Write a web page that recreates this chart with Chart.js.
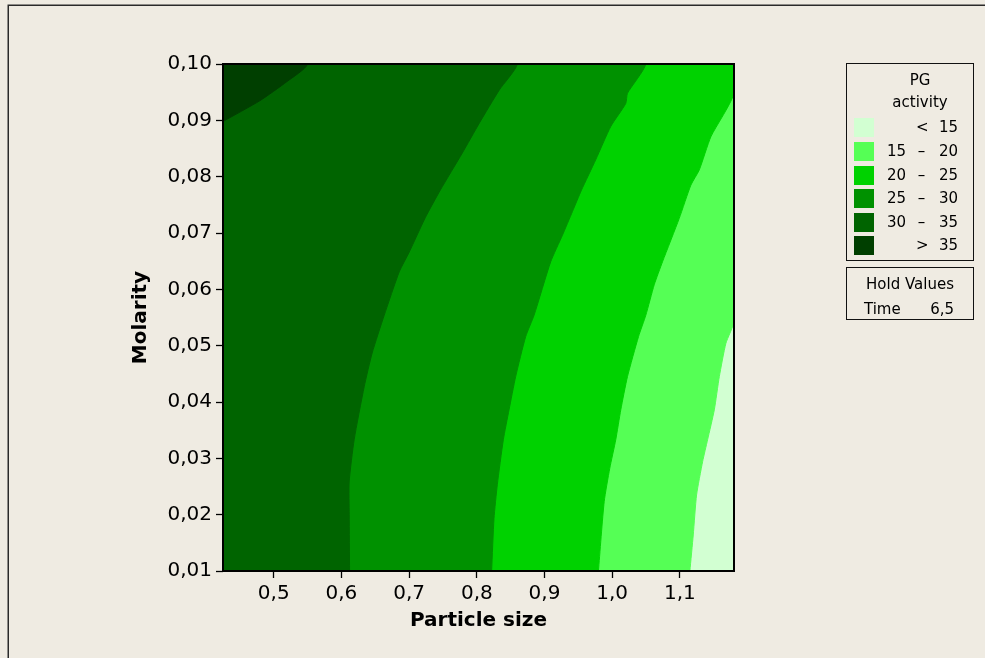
<!DOCTYPE html>
<html>
<head>
<meta charset="utf-8">
<script src="https://cdn.jsdelivr.net/npm/chart.js@4/dist/chart.umd.min.js"></script>
<style>
  html, body { margin: 0; overflow: hidden; }
  body { background: #efebe2; width: 985px; height: 658px; position: relative;
         font-family: "DejaVu Sans", sans-serif; color: #000; }
  canvas { position: absolute; left: 0; top: 0; }
  .box { position: absolute; left: 846px; width: 128px; box-sizing: border-box; border: 1.5px solid #111; }
  .txt { position: absolute; font-size: 15px; line-height: 19px; white-space: nowrap; }
  .row { position: absolute; left: 854px; width: 104px; height: 19px; font-size: 15px; line-height: 19px; }
  .row span { position: absolute; top: 0; }
  .sw { left: 0; width: 20px; height: 19px; }
  .lo { left: 33px; }
  .sym { left: 62px; width: 11px; text-align: center; }
  .hi { right: 0; }
</style>
</head>
<body>
<canvas id="myChart" width="985" height="658"></canvas>
<div class="box" style="top:63px;height:198px;"></div>
<div class="box" style="top:267px;height:53px;"></div>
<div class="txt" id="legTitle1" style="left:880px;width:80px;text-align:center;top:70.8px;"></div>
<div class="txt" id="legTitle2" style="left:880px;width:80px;text-align:center;top:93.3px;"></div>
<div class="txt" id="holdTitle" style="left:846px;width:128px;text-align:center;top:274.8px;"></div>
<div class="txt" id="holdName" style="left:864px;top:299.8px;"></div>
<div class="txt" id="holdValue" style="right:31px;top:299.8px;"></div>
<script>
const xTicks = [0.5, 0.6, 0.7, 0.8, 0.9, 1.0, 1.1];
const yTicks = [0.01, 0.02, 0.03, 0.04, 0.05, 0.06, 0.07, 0.08, 0.09, 0.10];
const xRange = [0.425, 1.18];
const yRange = [0.01, 0.10];

// PG activity breaks, colours from lowest (< 15) to highest (> 35)
const levelBreaks = [15, 20, 25, 30, 35];
const levelColors = ['#d2ffd2', '#55ff55', '#00d200', '#009100', '#006400', '#003f00'];

// contour lines: [particle size, molarity], bottom/left edge -> top/right edge
const line15 = [[1.1148, 0.010], [1.1198, 0.0164], [1.1247, 0.0235], [1.1336, 0.0294], [1.141, 0.0333],
  [1.1509, 0.0386], [1.1583, 0.0445], [1.168, 0.0504], [1.1805, 0.0545]];
const line20 = [[0.9797, 0.010], [0.9882, 0.0223], [0.9964, 0.0282], [1.0053, 0.0333], [1.0127, 0.0386],
  [1.0226, 0.0445], [1.0389, 0.0516], [1.0497, 0.0554], [1.0621, 0.0608], [1.0744, 0.0649],
  [1.0991, 0.0726], [1.1163, 0.0785], [1.1287, 0.0812], [1.1459, 0.0871], [1.1805, 0.0950]];
const line25 = [[0.8219, 0.010], [0.8254, 0.0193], [0.8303, 0.0253], [0.8392, 0.0333], [0.8476, 0.0386],
  [0.8574, 0.0445], [0.8722, 0.0516], [0.8846, 0.0554], [0.9092, 0.0649], [0.9265, 0.0696],
  [0.9413, 0.0738], [0.9546, 0.0776], [0.9757, 0.0830], [0.9979, 0.0889], [1.0201, 0.0930],
  [1.0226, 0.0948], [1.0497, 0.100]];
const line30 = [[0.612, 0.010], [0.6115, 0.020], [0.6114, 0.0258], [0.6188, 0.0333], [0.6336, 0.0427],
  [0.6454, 0.0487], [0.6632, 0.0554], [0.6854, 0.0631], [0.7001, 0.0666], [0.7238, 0.0727],
  [0.746, 0.0776], [0.7786, 0.0842], [0.8037, 0.0895], [0.8333, 0.0954], [0.860, 0.100]];
const line35 = [[0.425, 0.0898], [0.4797, 0.0935], [0.5197, 0.0969], [0.550, 0.100]];

const holdName = 'Time';
const holdValue = '6,5';
const legendTitle = ['PG', 'activity'];

const ctx = document.getElementById('myChart').getContext('2d');

// region left/above a contour line, closed outside the plot area
function regionOf(line) {
  const pts = line.map(p => ({x: p[0], y: p[1]}));
  const first = pts[0], last = pts[pts.length - 1];
  const outX = xRange[0] - 0.1, outY = yRange[1] + 0.01;
  pts.push({x: last.x, y: outY}, {x: outX, y: outY}, {x: outX, y: first.y});
  return pts;
}

const lines = [line35, line30, line25, line20, line15];
const datasets = lines.map((line, i) => {
  const color = levelColors[levelColors.length - 1 - i];
  return {
    data: regionOf(line),
    backgroundColor: color,
    borderColor: color,
    borderWidth: 1,
    pointRadius: 0,
    tension: 0.2,
    fill: 'shape',
    clip: 0
  };
});

const plotFrame = {
  id: 'plotFrame',
  beforeDraw(chart) {
    // outer graph window edge (left and top only, the rest is cut off)
    const c = chart.ctx;
    c.save();
    c.strokeStyle = '#2a2a2a';
    c.lineWidth = 1.5;
    c.beginPath();
    c.moveTo(8.25, chart.height);
    c.lineTo(8.25, 5.25);
    c.lineTo(chart.width, 5.25);
    c.stroke();
    c.restore();
  },
  beforeDatasetsDraw(chart) {
    const a = chart.chartArea;
    chart.ctx.save();
    chart.ctx.fillStyle = levelColors[0];
    chart.ctx.fillRect(a.left, a.top, a.right - a.left, a.bottom - a.top);
    chart.ctx.restore();
  },
  afterDatasetsDraw(chart) {
    const a = chart.chartArea;
    chart.ctx.save();
    chart.ctx.strokeStyle = '#000';
    chart.ctx.lineWidth = 2;
    chart.ctx.strokeRect(a.left, a.top, a.right - a.left, a.bottom - a.top);
    chart.ctx.restore();
  }
};

const tickFont = {family: 'DejaVu Sans', size: 20};
const titleFont = {family: 'DejaVu Sans', size: 20, weight: 'bold'};

const myChart = new Chart(ctx, {
  type: 'line',
  data: {datasets: datasets},
  options: {
    responsive: false,
    devicePixelRatio: 1,
    animation: false,
    events: [],
    layout: {padding: {left: 0, top: 64, right: 251, bottom: 0}},
    plugins: {legend: {display: false}, tooltip: {enabled: false}},
    scales: {
      x: {
        type: 'linear',
        min: xRange[0],
        max: xRange[1],
        afterBuildTicks: s => { s.ticks = xTicks.map(v => ({value: v})); },
        afterFit: s => { s.height = 87; },
        ticks: {font: tickFont, color: '#000', padding: 4, maxRotation: 0, autoSkip: false,
          callback: v => v.toFixed(1).replace('.', ',')},
        grid: {drawOnChartArea: false, tickLength: 7, color: '#000', tickWidth: 1.3},
        border: {display: false},
        title: {display: true, text: 'Particle size', font: titleFont, color: '#000', padding: {top: 0, bottom: 25}}
      },
      y: {
        type: 'linear',
        min: yRange[0],
        max: yRange[1],
        afterBuildTicks: s => { s.ticks = yTicks.map(v => ({value: v})); },
        afterFit: s => { s.width = 223; },
        ticks: {font: tickFont, color: '#000', padding: 4, autoSkip: false,
          callback: v => v.toFixed(2).replace('.', ',')},
        grid: {drawOnChartArea: false, tickLength: 7, color: '#000', tickWidth: 1.3},
        border: {display: false},
        title: {display: true, text: 'Molarity', font: titleFont, color: '#000', padding: {top: 129, bottom: 0}}
      }
    }
  },
  plugins: [plotFrame]
});

// legend boxes
document.getElementById('legTitle1').textContent = legendTitle[0];
document.getElementById('legTitle2').textContent = legendTitle[1];
document.getElementById('holdTitle').textContent = 'Hold Values';
document.getElementById('holdName').textContent = holdName;
document.getElementById('holdValue').textContent = holdValue;

levelColors.forEach((c, i) => {
  let lo = '', sym = '', hi = '';
  if (i === 0) { sym = '<'; hi = levelBreaks[0]; }
  else if (i === levelColors.length - 1) { sym = '>'; hi = levelBreaks[i - 1]; }
  else { lo = levelBreaks[i - 1]; sym = '–'; hi = levelBreaks[i]; }
  const row = document.createElement('div');
  row.className = 'row';
  row.style.top = (118.3 + i * 23.6) + 'px';
  row.innerHTML = '<span class="sw" style="background:' + c + '"></span>' +
    '<span class="lo">' + lo + '</span><span class="sym">' + sym + '</span><span class="hi">' + hi + '</span>';
  document.body.appendChild(row);
});
</script>
</body>
</html>
